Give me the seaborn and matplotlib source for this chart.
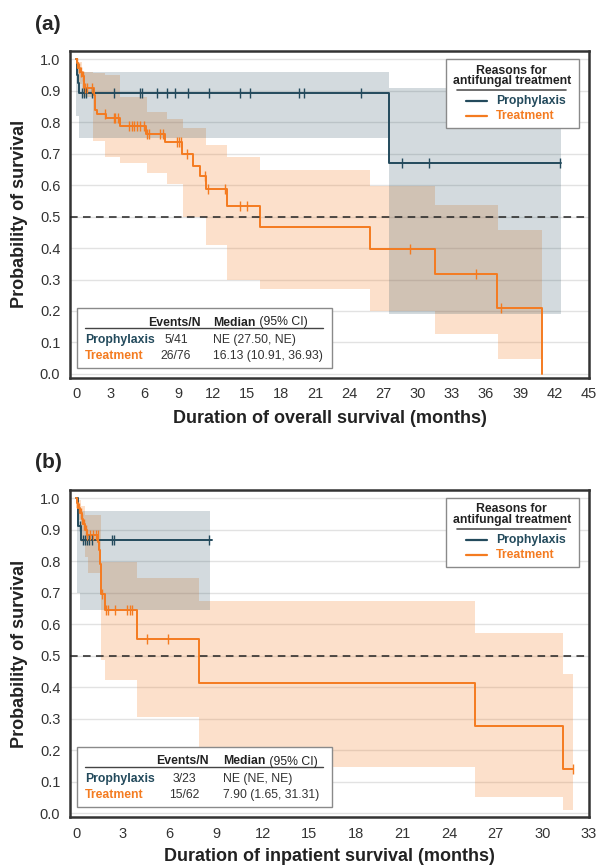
import numpy as np
import pandas as pd
import seaborn as sns
import matplotlib
matplotlib.use("Agg")
import matplotlib.pyplot as plt
from matplotlib.patches import Rectangle
from matplotlib.lines import Line2D

sns.set_theme(style="white")
plt.rcParams['font.family'] = ['Liberation Sans', 'DejaVu Sans']

PRO_COLOR = "#234a5c"
TRT_COLOR = "#f47b20"
GROUPS = ["Prophylaxis", "Treatment"]

# ---- panel (a): overall survival ----
A_PRO_T = [0.0, 0.05, 0.12, 0.2, 0.3, 27.5]
A_PRO_S = [1.0, 0.975, 0.95, 0.925, 0.894, 0.669]
A_PRO_END = 42.6
A_PRO_CENS = [0.5, 0.7, 0.88, 1.44, 3.3, 5.65, 5.8, 7.1, 8.0, 8.65, 9.8, 11.7,
              14.4, 15.3, 19.6, 20.0, 25.0, 28.65, 31.0, 42.5]
A_PRO_BT = [0.0, 0.3, 27.5]
A_PRO_LO = [0.82, 0.75, 0.19]
A_PRO_HI = [0.99, 0.96, 0.91]

A_TRT_T = [0.0, 0.1, 0.2, 0.35, 0.5, 0.7, 1.55, 1.68, 1.83, 2.65, 3.88, 6.15, 7.85,
           9.33, 10.3, 10.91, 11.4, 13.24, 16.13, 25.8, 31.5, 37.0, 40.9]
A_TRT_S = [1.0, 0.987, 0.973, 0.96, 0.947, 0.907, 0.886, 0.84, 0.825, 0.812, 0.788,
           0.761, 0.736, 0.70, 0.661, 0.628, 0.587, 0.533, 0.467, 0.398, 0.318, 0.21, 0.0]
A_TRT_END = 40.9
A_TRT_CENS = [0.12, 0.26, 0.41, 0.59, 0.79, 1.0, 1.44, 2.56, 3.3, 3.44, 3.65, 4.62,
              4.91, 5.12, 5.36, 5.65, 5.94, 6.24, 6.38, 7.41, 7.65, 8.88, 9.03, 9.18,
              9.77, 11.3, 11.6, 13.1, 14.4, 15.0, 29.3, 35.1, 37.3]
A_TRT_BT = [0.0, 0.2, 0.5, 1.53, 2.56, 3.9, 6.2, 8.0, 9.4, 11.4, 13.3, 16.2, 25.8, 31.5, 37.1]
A_TRT_LO = [0.96, 0.92, 0.88, 0.74, 0.69, 0.669, 0.637, 0.605, 0.5, 0.409, 0.30, 0.27,
            0.2, 0.127, 0.048]
A_TRT_HI = [1.0, 0.99, 0.96, 0.955, 0.95, 0.881, 0.833, 0.81, 0.78, 0.727, 0.69, 0.647,
            0.597, 0.536, 0.456]

A_TABLE = [("Prophylaxis", "5/41", "NE (27.50, NE)"),
           ("Treatment", "26/76", "16.13 (10.91, 36.93)")]

# ---- panel (b): inpatient survival ----
B_PRO_T = [0.0, 0.1, 0.15, 0.3]
B_PRO_S = [1.0, 0.957, 0.913, 0.868]
B_PRO_END = 8.72
B_PRO_CENS = [0.26, 0.43, 0.58, 0.73, 0.86, 1.0, 2.29, 2.46, 8.57]
B_PRO_BT = [0.05, 0.25]
B_PRO_LO = [0.70, 0.644]
B_PRO_HI = [0.96, 0.96]
B_PRO_BEND = 8.6

B_TRT_T = [0.0, 0.08, 0.15, 0.25, 0.35, 0.45, 0.55, 0.7, 1.44, 1.5, 1.55, 1.6, 1.86,
           3.94, 7.9, 25.66, 31.31]
B_TRT_S = [1.0, 0.984, 0.968, 0.952, 0.935, 0.918, 0.9, 0.883, 0.86, 0.835, 0.79,
           0.697, 0.644, 0.552, 0.413, 0.275, 0.14]
B_TRT_END = 32.0
B_TRT_CENS = [0.09, 0.19, 0.30, 0.41, 0.51, 0.62, 0.73, 0.9, 1.11, 1.26, 1.39, 1.65,
              1.93, 2.08, 2.51, 3.26, 3.47, 3.58, 4.59, 5.94, 32.0]
B_TRT_BT = [0.0, 0.1, 0.3, 0.58, 0.79, 1.61, 1.86, 3.94, 7.91, 25.66, 31.3]
B_TRT_LO = [0.97, 0.93, 0.86, 0.814, 0.761, 0.485, 0.421, 0.305, 0.145, 0.052, 0.01]
B_TRT_HI = [1.0, 0.995, 0.975, 0.947, 0.947, 0.798, 0.798, 0.748, 0.673, 0.572, 0.44]

B_TABLE = [("Prophylaxis", "3/23", "NE (NE, NE)"),
           ("Treatment", "15/62", "7.90 (1.65, 31.31)")]

W, H = 598, 866


def fx(x):
    return x / W


def fy(y):
    return 1 - y / H


def step_df(curves):
    rows = []
    for grp, t, s, end in curves:
        for ti, si in zip(t, s):
            rows.append((ti, si, grp))
        rows.append((end, s[-1], grp))
    return pd.DataFrame(rows, columns=["time", "surv", "group"])


def band(ax, t, lo, hi, end, color, alpha):
    tt = list(t) + [end]
    ax.fill_between(tt, list(lo) + [lo[-1]], list(hi) + [hi[-1]], step="post",
                    color=color, alpha=alpha, lw=0, zorder=1)


def censors(ax, t, s, ct, color):
    t = np.asarray(t)
    s = np.asarray(s)
    idx = np.searchsorted(t, ct, side="right") - 1
    ax.plot(ct, s[idx], ls="none", marker="|", ms=6.5, mew=1.0, color=color, zorder=4)


def legend_box(fig, dy):
    fig.add_artist(Rectangle((fx(445.7), fy(128.3 + dy)), fx(579.3) - fx(445.7),
                             fy(59 + dy) - fy(128.3 + dy), transform=fig.transFigure,
                             facecolor="white", edgecolor="#8a8a8a", lw=1.0, zorder=5))
    fig.text(fx(511), fy(70.5 + dy), "Reasons for", ha="center", va="center",
             fontsize=8.8, fontweight="bold", color="#222222", zorder=6)
    fig.text(fx(512.5), fy(81 + dy), "antifungal treatment", ha="center", va="center",
             fontsize=8.8, fontweight="bold", color="#222222", zorder=6)
    fig.add_artist(Line2D([fx(457.3), fx(566)], [fy(90 + dy)] * 2, transform=fig.transFigure,
                          color="#555555", lw=1.2, zorder=6))
    for yy, name, c in [(100.7, "Prophylaxis", PRO_COLOR), (116, "Treatment", TRT_COLOR)]:
        fig.add_artist(Line2D([fx(465.7), fx(486.7)], [fy(yy + dy)] * 2,
                              transform=fig.transFigure, color=c, lw=1.6, zorder=6))
        fig.text(fx(495.7), fy(yy + dy), name, ha="left", va="center", fontsize=8.8,
                 fontweight="bold", color=c, zorder=6)


def table_box(fig, dy, rows, ev_x, med_x):
    fig.add_artist(Rectangle((fx(76.7), fy(368.3 + dy)), fx(332.3) - fx(76.7),
                             fy(308.3 + dy) - fy(368.3 + dy), transform=fig.transFigure,
                             facecolor="white", edgecolor="#8a8a8a", lw=1.0, zorder=5))
    fig.text(fx(ev_x), fy(322.5 + dy), "Events/N", ha="center", va="center",
             fontsize=8.8, fontweight="bold", color="#222222", zorder=6)
    t = fig.text(fx(med_x), fy(322.5 + dy), "Median", ha="left", va="center",
                 fontsize=8.8, fontweight="bold", color="#222222", zorder=6)
    fig.canvas.draw()
    bb = t.get_window_extent()
    fig.text(bb.x1 / fig.dpi / fig.get_size_inches()[0], fy(322.5 + dy), " (95% CI)",
             ha="left", va="center", fontsize=8.8, color="#222222", zorder=6)
    fig.add_artist(Line2D([fx(85), fx(323.3)], [fy(328 + dy)] * 2, transform=fig.transFigure,
                          color="#444444", lw=1.0, zorder=6))
    for (name, ev, med), yy, c in zip(rows, [340, 356], [PRO_COLOR, TRT_COLOR]):
        fig.text(fx(85), fy(yy + dy), name, ha="left", va="center", fontsize=8.8,
                 fontweight="bold", color=c, zorder=6)
        fig.text(fx(ev_x + 2), fy(yy + dy), ev, ha="center", va="center", fontsize=8.8,
                 color="#333333", zorder=6)
        fig.text(fx(med_x), fy(yy + dy), med, ha="left", va="center", fontsize=8.8,
                 color="#333333", zorder=6)


def style_axes(ax, xmax, xstep, xlabel, xlim, ylim, xlab_y):
    ax.set_xlim(*xlim)
    ax.set_ylim(*ylim)
    ax.set_xticks(np.arange(0, xmax + 0.1, xstep))
    ax.set_yticks(np.round(np.arange(0, 1.01, 0.1), 1))
    ax.set_yticklabels([f"{v:.1f}" for v in np.arange(0, 1.01, 0.1)])
    for v in np.arange(0, 1.01, 0.1):
        ax.axhline(v, color="#e2e2e2", lw=1.0, zorder=0)
    ax.axhline(0.5, color="#222222", ls=(0, (5, 3.5)), lw=1.1, zorder=3)
    for sp in ax.spines.values():
        sp.set_color("#333333")
        sp.set_linewidth(1.8)
    ax.tick_params(axis="both", direction="out", length=4.5, width=1.2, color="#333333",
                   labelsize=10.5, labelcolor="#333333", pad=2.5)
    ax.set_xlabel(xlabel, fontsize=13, fontweight="bold", color="#222222")
    ax.set_ylabel("Probability of survival", fontsize=13, fontweight="bold", color="#222222")
    ax.xaxis.set_label_coords(0.5, xlab_y)
    ax.yaxis.set_label_coords(-0.08, 0.5)


fig = plt.figure(figsize=(W / 100, H / 100), dpi=100)
ax_a = fig.add_axes([fx(70), fy(377.7), fx(589) - fx(70), fy(51) - fy(377.7)])
ax_b = fig.add_axes([fx(70), fy(817), fx(589) - fx(70), fy(490) - fy(817)])

panels = [
    (ax_a, [("Prophylaxis", A_PRO_T, A_PRO_S, A_PRO_END), ("Treatment", A_TRT_T, A_TRT_S, A_TRT_END)],
     (A_PRO_BT, A_PRO_LO, A_PRO_HI, A_PRO_END), (A_TRT_BT, A_TRT_LO, A_TRT_HI, A_TRT_END),
     A_PRO_CENS, A_TRT_CENS),
    (ax_b, [("Prophylaxis", B_PRO_T, B_PRO_S, B_PRO_END), ("Treatment", B_TRT_T, B_TRT_S, B_TRT_END)],
     (B_PRO_BT, B_PRO_LO, B_PRO_HI, B_PRO_BEND), (B_TRT_BT, B_TRT_LO, B_TRT_HI, B_TRT_END),
     B_PRO_CENS, B_TRT_CENS),
]

for ax, curves, pband, tband, pc, tc in panels:
    band(ax, *tband, TRT_COLOR, 0.23)
    band(ax, *pband, PRO_COLOR, 0.2)
    df = step_df(curves)
    sns.lineplot(data=df, x="time", y="surv", hue="group", hue_order=GROUPS,
                 palette=[PRO_COLOR, TRT_COLOR], drawstyle="steps-post", estimator=None,
                 sort=False, legend=False, lw=1.4, ax=ax, zorder=3)
    censors(ax, curves[0][1], curves[0][2], pc, PRO_COLOR)
    censors(ax, curves[1][1], curves[1][2], tc, TRT_COLOR)

style_axes(ax_a, 45, 3, "Duration of overall survival (months)", (-0.53, 45.05),
           (-0.012, 1.026), -0.099)
style_axes(ax_b, 33, 3, "Duration of inpatient survival (months)", (-0.39, 33.0),
           (-0.0127, 1.026), -0.096)

fig.text(fx(35), fy(24), "(a)", fontsize=15, fontweight="bold", va="center", ha="left")
fig.text(fx(35), fy(462.5), "(b)", fontsize=15, fontweight="bold", va="center", ha="left")

legend_box(fig, 0)
legend_box(fig, 439)
table_box(fig, 0, A_TABLE, 174, 213.3)
table_box(fig, 439, B_TABLE, 182, 223.3)

fig.savefig("out.png", dpi=100)
